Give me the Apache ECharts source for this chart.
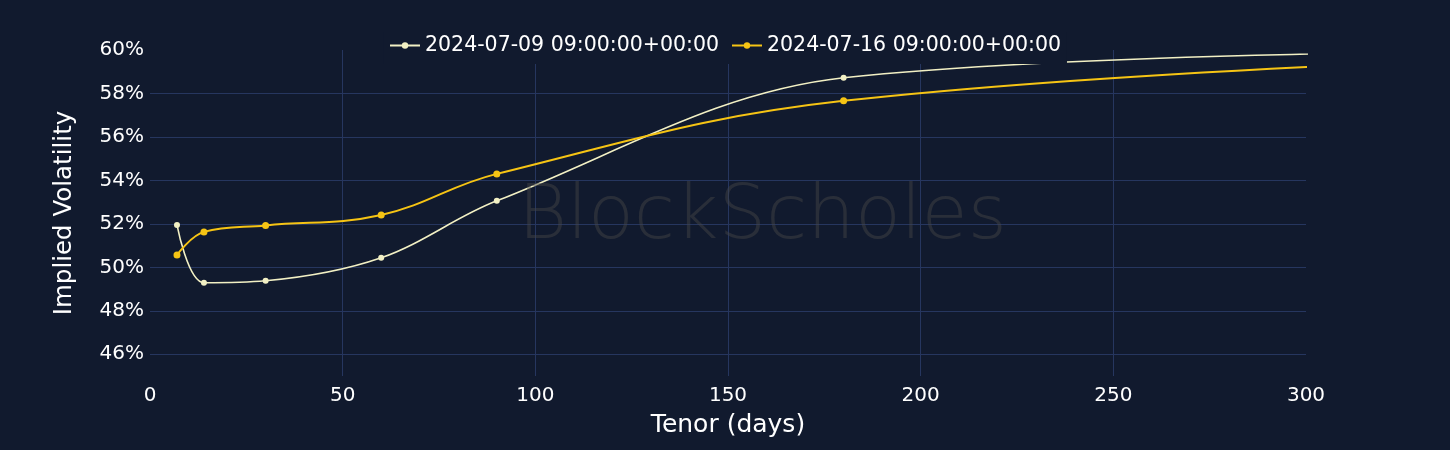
<!DOCTYPE html>
<html><head><meta charset="utf-8">
<script src="https://cdn.jsdelivr.net/npm/echarts@6/dist/echarts.min.js"></script>
<style>html,body{margin:0;padding:0;background:#111a2e;}#c{width:1450px;height:450px;}</style>
</head><body><div id="c"></div>
<script>
const tenors = [7, 14, 30, 60, 90, 180, 365];
const seriesNames = ['2024-07-09 09:00:00+00:00', '2024-07-16 09:00:00+00:00'];
const iv0709 = [51.95, 49.29, 49.38, 50.44, 53.06, 58.72, 59.95];
const iv0716 = [50.57, 51.63, 51.93, 52.41, 54.30, 57.66, 59.70];
const yTicks = [46, 48, 50, 52, 54, 56, 58];
const yLabels = [46, 48, 50, 52, 54, 56, 58, 60];
const xTicks = [50, 100, 150, 200, 250];
const xLabels = [0, 50, 100, 150, 200, 250, 300];

const font = 'DejaVu Sans';
const chart = echarts.init(document.getElementById('c'), null, {renderer: 'canvas'});
const mk = (vals) => tenors.map((t, i) => [t, vals[i]]);
chart.setOption({
  backgroundColor: '#111a2e',
  animation: false,
  textStyle: {fontFamily: font},
  grid: {left: 150, right: 144, top: 50, bottom: 74, containLabel: false},
  legend: {
    top: 32, left: 'center',
    backgroundColor: '#111a2e',
    padding: [3, 6, 8, 6],
    itemWidth: 30, itemHeight: 8, itemGap: 12,
    textStyle: {color: '#ffffff', fontSize: 20.5, fontFamily: font},
    data: seriesNames
  },
  xAxis: {
    type: 'value', min: 0, max: 300,
    name: 'Tenor (days)', nameLocation: 'middle', nameGap: 37,
    nameTextStyle: {color: '#ffffff', fontSize: 25, fontFamily: font},
    axisLine: {show: false}, axisTick: {show: false, customValues: xTicks},
    axisLabel: {color: '#ffffff', fontSize: 20, margin: 10, customValues: xLabels, fontFamily: font},
    splitLine: {show: true, lineStyle: {color: '#26365f', width: 1}}
  },
  yAxis: {
    type: 'value', min: 45, max: 60,
    name: 'Implied Volatility', nameLocation: 'middle', nameGap: 73, nameRotate: 90,
    nameTextStyle: {color: '#ffffff', fontSize: 24.5, fontFamily: font},
    axisLine: {show: false}, axisTick: {show: false, customValues: yTicks},
    axisLabel: {color: '#ffffff', fontSize: 20, margin: 6, customValues: yLabels, formatter: v => v + '%', fontFamily: font},
    splitLine: {show: true, lineStyle: {color: '#26365f', width: 1}}
  },
  series: [
    {name: seriesNames[0], type: 'line', data: mk(iv0709), smooth: 0.35, clip: true,
     symbol: 'circle', symbolSize: 6, showSymbol: true,
     lineStyle: {color: '#f2f0c4', width: 1.6}, itemStyle: {color: '#f2f0c4'}, z: 2},
    {name: seriesNames[1], type: 'line', data: mk(iv0716), smooth: 0.4, clip: true,
     symbol: 'circle', symbolSize: 7, showSymbol: true,
     lineStyle: {color: '#f6c414', width: 2}, itemStyle: {color: '#f6c414'}, z: 2}
  ],
  graphic: [{
    type: 'text', left: 518, top: 181, z: 100, silent: true,
    style: {text: 'BlockScholes', font: '200 75px "DejaVu Sans"', fill: 'rgba(70,70,70,0.45)'}
  }]
});
</script></body></html>
